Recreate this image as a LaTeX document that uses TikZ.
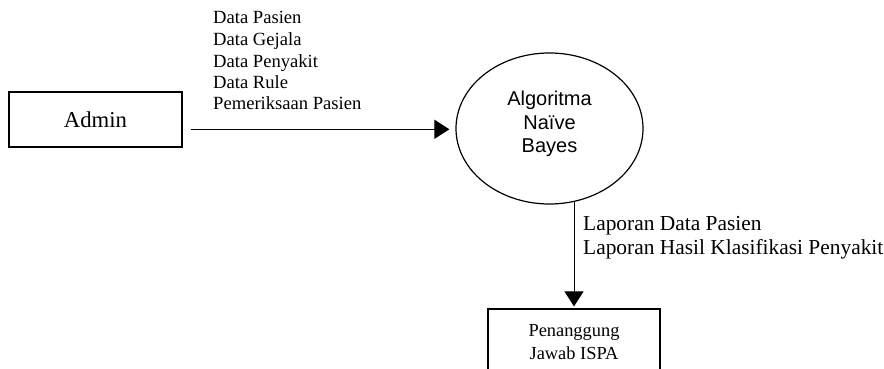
\documentclass[tikz,border=0pt]{standalone}
\usepackage{fontspec}
\setmainfont{Liberation Serif}
\setsansfont{Liberation Sans}
\usetikzlibrary{shapes.geometric, arrows.meta, calc}
\tikzset{>={Triangle[length=15pt,width=19pt]}}
\tikzset{entity/.style={draw, line width=1.2pt, inner sep=0pt},
	process/.style={draw, ellipse, line width=1.2pt, minimum width=187pt, minimum height=151pt, inner sep=0pt},
	flow/.style={->, line width=1pt},
	flowlabel/.style={anchor=base west, align=left, inner sep=0pt}}

\begin{document}
\begin{tikzpicture}[x=1pt,y=-1pt]
		\useasboundingbox (0,0) rectangle (884,369);
		\clip (0,0) rectangle (884,369);

		\node[entity, minimum width=173pt, minimum height=55pt, font=\fontsize{22.7}{26}\selectfont] (admin) at (95.5,119.5) {Admin};
		\node[process] (alg) at (549.5,128.5) {};
		\node[align=center, font=\sffamily\fontsize{20}{23.7}\selectfont] (algtext) at ($(alg.center)+(0,-4.5)$) {Algoritma\\Naïve\\Bayes};
		\node[entity, minimum width=172pt, minimum height=66.6pt, align=center, font=\fontsize{18.4}{23.3}\selectfont] (pj) at (574,342.3) {Penanggung\\Jawab ISPA};

		\draw[flow] ($(admin.east)+(8,9.8)$) -- ($(alg.west)+(-6,0.8)$);
		\draw[flow] ($(alg.south -| pj.north)+(0,-4)$) -- ($(pj.north)+(0,-2)$);

		\node[flowlabel, font=\fontsize{18.6}{21.5}\selectfont] (inlabel) at (213,110) {Data Pasien\\Data Gejala\\Data Penyakit\\Data Rule\\Pemeriksaan Pasien};
		\node[flowlabel, font=\fontsize{21.4}{23.3}\selectfont] (outlabel) at (583,254) {Laporan Data Pasien\\Laporan Hasil Klasifikasi Penyakit};
	\end{tikzpicture}
\end{document}
